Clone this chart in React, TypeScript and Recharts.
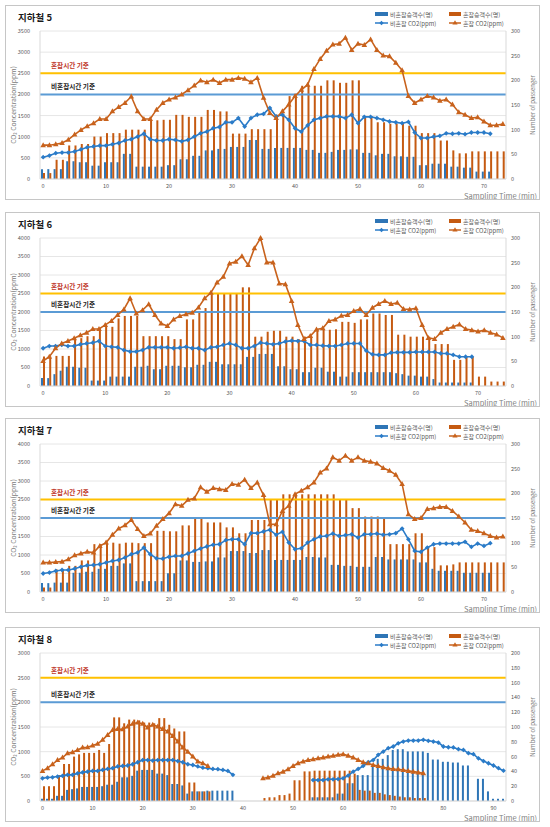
import { ComposedChart, Bar, Line, XAxis, YAxis, CartesianGrid, ReferenceLine } from 'recharts';

// colours
const BAR_BLUE = '#2e75b6';
const BAR_ORANGE = '#c55a11';
const LINE_BLUE = '#2a7bc8';
const LINE_ORANGE = '#c8621c';
const REF_YELLOW = '#ffc000';
const REF_BLUE = '#5b9bd5';
const FONT = '"Noto Sans CJK KR", "Noto Sans", sans-serif';

// categories (sampling minute)
const minutes74 = Array.from({ length: 74 }, (_, i) => i);
const minutes75 = Array.from({ length: 75 }, (_, i) => i);
const minutes93 = Array.from({ length: 93 }, (_, i) => i);

// tick labels
const co2Ticks3000 = [0, 500, 1000, 1500, 2000, 2500, 3000];
const co2Ticks3500 = [0, 500, 1000, 1500, 2000, 2500, 3000, 3500];
const co2Ticks4000 = [0, 500, 1000, 1500, 2000, 2500, 3000, 3500, 4000];
const paxTicks300 = [0, 50, 100, 150, 200, 250, 300];
const paxTicks200 = [0, 20, 40, 60, 80, 100, 120, 140, 160, 180, 200];
const timeTicks70 = [0, 10, 20, 30, 40, 50, 60, 70];
const timeTicks90 = [0, 10, 20, 30, 40, 50, 60, 70, 80, 90];

// thresholds
const congestedLimit = 2500;
const nonCongestedLimit = 2000;

// 지하철 5
const l5NonPax = [20, 20, 20, 20, 36, 36, 34, 34, 27, 27, 34, 34, 34, 51, 51, 25, 25, 25, 25, 25, 28, 28, 40, 40, 47, 47, 58, 58, 61, 61, 65, 65, 65, 79, 79, 61, 61, 63, 63, 63, 63, 63, 59, 59, 53, 53, 55, 59, 59, 60, 60, 53, 53, 48, 51, 51, 46, 46, 45, 45, 28, 28, 31, 31, 31, 25, 25, 23, 23, 15, 15, 15, null, null];
const l5CongPax = [12, 12, 39, 39, 68, 68, 71, 71, 86, 86, 93, 93, 93, 100, 100, 100, 100, 119, 119, 120, 120, 130, 130, 126, 126, 126, 140, 140, 137, 137, 92, 92, 92, 101, 101, 101, 101, 130, 130, 168, 168, 189, 189, 189, 189, 200, 200, 195, 195, 200, 200, 127, 127, 115, 115, 112, 112, 112, 108, 108, 93, 93, 93, 78, 78, 58, 52, 52, 56, 56, 56, 56, 56, 56];
const l5NonCo2 = [515, 555, 610, 625, 625, 650, 700, 750, 770, 790, 790, 820, 850, 910, 940, 1000, 1070, 940, 910, 910, 940, 925, 890, 925, 1000, 1080, 1120, 1200, 1230, 1340, 1340, 1440, 1240, 1440, 1520, 1540, 1680, 1480, 1520, 1400, 1200, 1120, 1270, 1400, 1440, 1480, 1480, 1480, 1440, 1520, 1320, 1470, 1470, 1440, 1400, 1360, 1340, 1320, 1350, 1100, 970, 970, 1000, 1020, 1080, 1070, 1080, 1060, 1100, 1100, 1100, 1070, null, null];
const l5CongCo2 = [800, 800, 820, 850, 930, 1050, 1160, 1250, 1320, 1420, 1420, 1600, 1700, 1800, 1950, 1600, 1420, 1420, 1640, 1800, 1880, 1930, 2000, 2100, 2210, 2330, 2290, 2350, 2270, 2350, 2350, 2390, 2370, 2290, 2390, 1920, 1560, 1440, 1600, 1760, 1960, 2110, 2230, 2600, 2840, 3030, 3180, 3200, 3340, 3050, 3200, 3170, 3300, 3050, 2920, 2900, 2750, 2570, 1960, 1800, 1880, 1960, 1930, 1850, 1880, 1760, 1580, 1520, 1440, 1460, 1360, 1270, 1270, 1300];

// 지하철 6
const l6NonPax = [16, 16, 24, 31, 39, 39, 37, 37, 11, 11, 11, 19, 19, 19, 19, 39, 39, 41, 34, 34, 41, 41, 41, 38, 38, 43, 43, 49, 49, 44, 44, 44, 44, 59, 59, 65, 65, 65, 40, 40, 34, 34, 28, 28, 37, 37, 29, 29, 19, 19, 28, 28, 28, 28, 28, 28, 28, 26, 24, 21, 21, 19, 19, 14, 7, 7, 7, 7, 7, 7, null, null, null, null, null];
const l6CongPax = [60, 60, 61, 61, 61, 97, 97, 101, 101, 117, 120, 120, 137, 142, 142, 142, 101, 101, 101, 101, 101, 95, 95, 135, 135, 151, 158, 188, 188, 188, 188, 188, 200, 200, 100, 100, 110, 112, 112, 100, 100, 95, 100, 101, 114, 115, 114, 115, 130, 130, 128, 135, 135, 147, 147, 144, 144, 104, 104, 100, 100, 100, 100, 85, 85, 85, 53, 53, 59, 59, 19, 19, 9, 9, 9];
const l6NonCo2 = [1020, 1080, 1080, 1110, 1080, 1080, 1125, 1150, 1170, 1215, 1080, 1060, 1045, 970, 930, 930, 970, 1045, 1045, 1045, 1045, 1020, 1035, 1060, 1020, 1020, 970, 1045, 1060, 1110, 1150, 1110, 1020, 1020, 1080, 1170, 1150, 1125, 1150, 1200, 1225, 1215, 1215, 1110, 1110, 1090, 1080, 1080, 1110, 1150, 1150, 1150, 955, 855, 840, 840, 900, 910, 910, 910, 920, 920, 920, 920, 880, 880, 840, 790, 790, 790, null, null, null, null, null];
const l6CongCo2 = [675, 790, 1020, 1150, 1215, 1290, 1370, 1440, 1540, 1540, 1650, 1760, 1920, 2070, 2370, 1960, 2050, 2210, 1920, 1690, 1620, 1800, 1890, 1940, 1980, 2120, 2370, 2520, 2800, 2950, 3310, 3360, 3510, 3270, 3720, 4000, 3340, 3340, 2770, 2750, 2300, 1650, 1270, 1350, 1530, 1560, 1755, 1800, 1900, 1920, 2025, 2080, 1920, 2115, 2215, 2300, 2215, 2250, 2080, 2070, 2100, 1650, 1300, 1270, 1440, 1540, 1600, 1665, 1540, 1510, 1470, 1510, 1440, 1395, 1300];

// 지하철 7
const l7NonPax = [18, 18, 19, 19, 19, 39, 39, 41, 41, 47, 47, 53, 53, 58, 58, 22, 22, 22, 22, 22, 38, 38, 64, 64, 61, 61, 62, 62, 70, 70, 83, 83, 83, 79, 79, 85, 85, 65, 65, 65, 65, 65, 71, 71, 70, 70, 55, 55, 53, 53, 51, 51, 51, 71, 71, 66, 66, 66, 66, 66, 60, 60, 47, 43, 43, 43, 43, 39, 39, 39, 39, 39, null, null];
const l7CongPax = [9, 9, 46, 46, 53, 53, 64, 64, 97, 97, 100, 100, 98, 100, 100, 99, 99, 99, 124, 124, 123, 123, 135, 135, 149, 149, 141, 141, 141, 131, 131, 119, 119, 146, 146, 146, 188, 188, 198, 198, 198, 198, 198, 198, 198, 198, 198, 187, 187, 170, 170, 153, 153, 153, 151, 97, 97, 97, 97, 119, 119, 91, 91, 54, 54, 56, 60, 60, 60, 60, 60, 60, 60, 60];
const l7NonCo2 = [500, 525, 570, 595, 595, 630, 680, 720, 730, 750, 795, 840, 865, 930, 1020, 1065, 1200, 1020, 910, 900, 950, 975, 975, 1040, 1110, 1175, 1230, 1275, 1290, 1400, 1425, 1425, 1290, 1590, 1590, 1635, 1680, 1545, 1625, 1335, 1155, 1180, 1335, 1425, 1500, 1515, 1580, 1515, 1535, 1560, 1470, 1560, 1560, 1580, 1545, 1560, 1590, 1715, 1425, 1110, 1085, 1200, 1290, 1310, 1310, 1310, 1310, 1355, 1220, 1310, 1245, 1320, null, null];
const l7CongCo2 = [795, 795, 810, 820, 885, 990, 1040, 1085, 1065, 1245, 1335, 1545, 1715, 1805, 1950, 1700, 1515, 1580, 1790, 1970, 2130, 2375, 2330, 2490, 2530, 2830, 2710, 2810, 2780, 2760, 2920, 2900, 3035, 2810, 2960, 2620, 1830, 1830, 2190, 2330, 2645, 2735, 2830, 2960, 3230, 3340, 3640, 3550, 3685, 3550, 3640, 3550, 3520, 3475, 3350, 3280, 3170, 2920, 2100, 1970, 2000, 2240, 2265, 2300, 2300, 2190, 2040, 1880, 1680, 1650, 1590, 1515, 1470, 1500];

// 지하철 8
const l8NonPax = [3, 3, 3, 7, 7, 15, 16, 17, 19, 19, 19, 19, 20, 22, 22, 26, 32, 32, 34, 41, 42, 42, 42, 37, 37, 35, 23, 23, 21, 10, 13, 13, 13, 14, 14, 14, 14, 14, 14, null, null, null, null, null, null, null, null, null, null, null, null, null, null, null, 5, 5, 5, 5, 5, 10, 10, 24, 24, 35, 35, 35, 49, 57, 57, 62, 69, 70, 70, 67, 67, 67, 67, 65, 56, 56, 53, 53, 52, 52, 48, 48, null, 30, 30, 13, 3, 3, 3];
const l8CongPax = [20, 20, 20, 35, 50, 50, 60, 63, 65, 65, 65, 69, 65, 77, 113, 113, 105, 110, 110, 109, 106, 106, 105, 112, 112, 103, 98, 94, 94, 25, 25, 13, 13, 13, null, null, null, null, null, null, null, null, null, null, 4, 5, 5, 8, 8, 10, 28, 28, 40, 40, 41, 41, 41, 41, 41, 41, 41, 41, 37, 15, 14, 14, 11, 11, 9, 8, 7, 6, 5, 5, 4, 4, 4, null, null, null, null, null, null, null, null, null, null, null, null, null, null, null, null];
const l8NonCo2 = [460, 475, 480, 495, 510, 530, 530, 560, 580, 595, 610, 610, 630, 650, 665, 700, 710, 720, 745, 785, 830, 830, 820, 830, 830, 830, 830, 810, 785, 745, 730, 700, 675, 665, 650, 645, 630, 610, 530, null, null, null, null, null, null, null, null, null, null, null, null, null, null, null, 425, 425, 425, 440, 440, 445, 460, 515, 595, 650, 710, 785, 830, 935, 1000, 1070, 1105, 1170, 1205, 1225, 1225, 1225, 1240, 1220, 1205, 1185, 1105, 1090, 1085, 1050, 1035, 970, 950, 865, 810, 765, 720, 665, 615];
const l8CongCo2 = [610, 665, 745, 830, 880, 970, 990, 1035, 1085, 1090, 1125, 1160, 1240, 1340, 1440, 1460, 1455, 1510, 1565, 1590, 1565, 1490, 1545, 1510, 1460, 1410, 1320, 1205, 1085, 1000, 900, 800, 765, 710, null, null, null, null, null, null, null, null, null, null, 460, 475, 510, 560, 595, 645, 710, 765, 800, 830, 845, 865, 880, 900, 915, 935, 950, 915, 880, 830, 785, 765, 730, 710, 685, 665, 650, 645, 630, 610, 595, 580, 560, null, null, null, null, null, null, null, null, null, null, null, null, null, null, null, null];

const diamondDot = (p: any) => {
  const { cx, cy, value, index } = p;
  if (cx == null || cy == null || value == null) return <g key={`d${index}`} />;
  const r = 2.4;
  return <path key={`d${index}`} d={`M${cx},${cy - r}L${cx + r},${cy}L${cx},${cy + r}L${cx - r},${cy}Z`} fill={LINE_BLUE} />;
};

const triangleDot = (p: any) => {
  const { cx, cy, value, index } = p;
  if (cx == null || cy == null || value == null) return <g key={`t${index}`} />;
  return <path key={`t${index}`} d={`M${cx},${cy - 3}L${cx + 2.8},${cy + 2}L${cx - 2.8},${cy + 2}Z`} fill={LINE_ORANGE} />;
};

interface PanelProps {
  title: string;
  top: number;
  minutes: number[];
  nonPax: (number | null)[];
  congPax: (number | null)[];
  nonCo2: (number | null)[];
  congCo2: (number | null)[];
  co2Ticks: number[];
  paxTicks: number[];
  timeTicks: number[];
}

function Legend() {
  const txt = { fontSize: 6, fill: '#595959', fontFamily: FONT };
  return (
    <svg width={170} height={24} style={{ position: 'absolute', left: 369, top: 0 }}>
      <rect x={0} y={6} width={13} height={4} fill={BAR_BLUE} />
      <text x={15} y={8} dominantBaseline="central" {...txt}>비혼잡승객수(명)</text>
      <rect x={74} y={6} width={12} height={4} fill={BAR_ORANGE} />
      <text x={88} y={8} dominantBaseline="central" {...txt}>혼잡승객수(명)</text>
      <line x1={0} y1={17} x2={13} y2={17} stroke={LINE_BLUE} strokeWidth={1.5} />
      <path d="M6.5,14.8L8.7,17L6.5,19.2L4.3,17Z" fill={LINE_BLUE} />
      <text x={15} y={17} dominantBaseline="central" {...txt}>비혼잡 CO2(ppm)</text>
      <line x1={74} y1={17} x2={86} y2={17} stroke={LINE_ORANGE} strokeWidth={1.5} />
      <path d="M80,14.2L82.6,18.6L77.4,18.6Z" fill={LINE_ORANGE} />
      <text x={88} y={17} dominantBaseline="central" {...txt}>혼잡 CO2(ppm)</text>
    </svg>
  );
}

function Panel({ title, top, minutes, nonPax, congPax, nonCo2, congCo2, co2Ticks, paxTicks, timeTicks }: PanelProps) {
  const data = minutes.map((t, i) => ({
    t,
    nonPax: nonPax[i],
    congPax: congPax[i],
    nonCo2: nonCo2[i],
    congCo2: congCo2[i],
  }));
  const tickStyle = { fontSize: 5.5, fill: '#595959', fontFamily: FONT };

  return (
    <div
      style={{
        position: 'absolute',
        left: 5,
        top,
        width: 533,
        height: 193,
        border: '1px solid #c6c6c6',
        background: '#fff',
        fontFamily: FONT,
      }}
    >
      <div style={{ position: 'absolute', left: 12, top: 4, fontSize: 9.5, fontWeight: 700, color: '#1a1a1a', lineHeight: '14px' }}>
        {title}
      </div>
      <Legend />
      <ComposedChart
        width={533}
        height={193}
        data={data}
        margin={{ top: 25, right: 0, bottom: 0, left: 0 }}
        barGap={0}
      >
        <CartesianGrid vertical={false} stroke="#e6e6e6" yAxisId="l" />
        <XAxis
          dataKey="t"
          ticks={timeTicks}
          interval={0}
          height={20}
          tick={tickStyle}
          tickLine={false}
          tickSize={3}
          tickMargin={2}
          axisLine={{ stroke: '#d9d9d9' }}
          label={(p: any) => (
            <text
              x={p.viewBox.x + p.viewBox.width + 31}
              y={p.viewBox.y + 16}
              textAnchor="end"
              dominantBaseline="central"
              fontSize={7.5}
              fill="#7f7f7f"
              fontFamily={FONT}
            >
              Sampling Time (min)
            </text>
          )}
        />
        <YAxis
          yAxisId="l"
          width={34}
          domain={[0, co2Ticks[co2Ticks.length - 1]]}
          ticks={co2Ticks}
          interval={0}
          tick={tickStyle}
          tickLine={false}
          tickMargin={4}
          axisLine={{ stroke: '#d9d9d9' }}
          label={(p: any) => {
            const x = p.viewBox.x + 7;
            const y = p.viewBox.y + p.viewBox.height / 2;
            return (
              <text x={x} y={y} transform={`rotate(-90 ${x} ${y})`} textAnchor="middle" dominantBaseline="central" fontSize={6.8} fill="#808080" fontFamily={FONT}>
                CO₂ Concentration(ppm)
              </text>
            );
          }}
        />
        <YAxis
          yAxisId="r"
          orientation="right"
          width={33}
          domain={[0, paxTicks[paxTicks.length - 1]]}
          ticks={paxTicks}
          interval={0}
          tick={tickStyle}
          tickLine={false}
          tickSize={2}
          tickMargin={3}
          axisLine={{ stroke: '#d9d9d9' }}
          label={(p: any) => {
            const x = p.viewBox.x + 26;
            const y = p.viewBox.y + p.viewBox.height / 2;
            return (
              <text x={x} y={y} transform={`rotate(-90 ${x} ${y})`} textAnchor="middle" dominantBaseline="central" fontSize={6} fill="#808080" fontFamily={FONT}>
                Number of passenger
              </text>
            );
          }}
        />
        <Bar yAxisId="r" dataKey="nonPax" fill={BAR_BLUE} barSize={2} isAnimationActive={false} />
        <Bar yAxisId="r" dataKey="congPax" fill={BAR_ORANGE} barSize={2} isAnimationActive={false} />
        <ReferenceLine
          yAxisId="l"
          y={congestedLimit}
          stroke={REF_YELLOW}
          strokeWidth={2}
          label={(p: any) => (
            <text x={p.viewBox.x + 11} y={p.viewBox.y - 5} fontSize={6.6} fontWeight={700} fill="#c0392b" fontFamily={FONT}>
              혼잡시간 기준
            </text>
          )}
        />
        <ReferenceLine
          yAxisId="l"
          y={nonCongestedLimit}
          stroke={REF_BLUE}
          strokeWidth={2}
          label={(p: any) => (
            <text x={p.viewBox.x + 11} y={p.viewBox.y - 5} fontSize={6.6} fontWeight={700} fill="#262626" fontFamily={FONT}>
              비혼잡시간 기준
            </text>
          )}
        />
        <Line
          yAxisId="l"
          type="linear"
          dataKey="nonCo2"
          stroke={LINE_BLUE}
          strokeWidth={1.6}
          dot={diamondDot}
          activeDot={false}
          connectNulls={false}
          isAnimationActive={false}
        />
        <Line
          yAxisId="l"
          type="linear"
          dataKey="congCo2"
          stroke={LINE_ORANGE}
          strokeWidth={1.6}
          dot={triangleDot}
          activeDot={false}
          connectNulls={false}
          isAnimationActive={false}
        />
      </ComposedChart>
    </div>
  );
}

export default function App() {
  return (
    <div style={{ position: 'absolute', left: 0, top: 0, width: 550, height: 827, background: '#fff' }}>
      <Panel title="지하철 5" top={5} minutes={minutes74} nonPax={l5NonPax} congPax={l5CongPax} nonCo2={l5NonCo2} congCo2={l5CongCo2} co2Ticks={co2Ticks3500} paxTicks={paxTicks300} timeTicks={timeTicks70} />
      <Panel title="지하철 6" top={212} minutes={minutes75} nonPax={l6NonPax} congPax={l6CongPax} nonCo2={l6NonCo2} congCo2={l6CongCo2} co2Ticks={co2Ticks4000} paxTicks={paxTicks300} timeTicks={timeTicks70} />
      <Panel title="지하철 7" top={418} minutes={minutes74} nonPax={l7NonPax} congPax={l7CongPax} nonCo2={l7NonCo2} congCo2={l7CongCo2} co2Ticks={co2Ticks4000} paxTicks={paxTicks300} timeTicks={timeTicks70} />
      <Panel title="지하철 8" top={627} minutes={minutes93} nonPax={l8NonPax} congPax={l8CongPax} nonCo2={l8NonCo2} congCo2={l8CongCo2} co2Ticks={co2Ticks3000} paxTicks={paxTicks200} timeTicks={timeTicks90} />
    </div>
  );
}
